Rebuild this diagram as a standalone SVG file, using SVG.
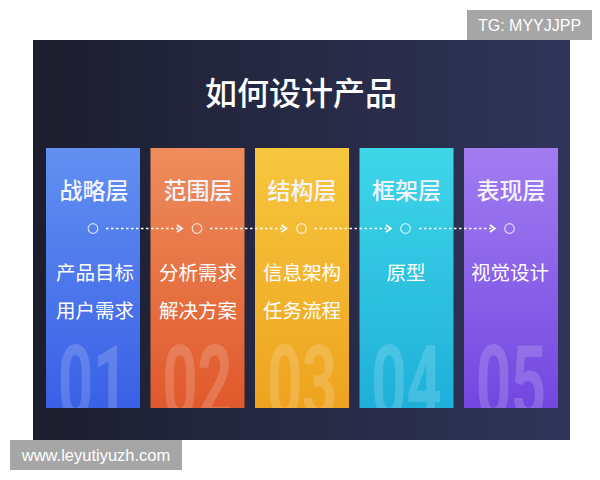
<svg xmlns="http://www.w3.org/2000/svg" width="600" height="480" viewBox="0 0 600 480">
  <defs>
    <linearGradient id="bg" x1="0" y1="0" x2="1" y2="0">
      <stop offset="0" stop-color="#1c1e2e"/>
      <stop offset="1" stop-color="#30355a"/>
    </linearGradient>
    <linearGradient id="g1" x1="0" y1="0" x2="0" y2="1">
      <stop offset="0" stop-color="#6190f1"/>
      <stop offset="1" stop-color="#3a60e6"/>
    </linearGradient>
    <linearGradient id="g2" x1="0" y1="0" x2="0" y2="1">
      <stop offset="0" stop-color="#ee8d5b"/>
      <stop offset="1" stop-color="#e0592c"/>
    </linearGradient>
    <linearGradient id="g3" x1="0" y1="0" x2="0" y2="1">
      <stop offset="0" stop-color="#f6c73e"/>
      <stop offset="1" stop-color="#eea31f"/>
    </linearGradient>
    <linearGradient id="g4" x1="0" y1="0" x2="0" y2="1">
      <stop offset="0" stop-color="#3fd6e8"/>
      <stop offset="1" stop-color="#1eb0d9"/>
    </linearGradient>
    <linearGradient id="g5" x1="0" y1="0" x2="0" y2="1">
      <stop offset="0" stop-color="#a27df1"/>
      <stop offset="1" stop-color="#7347e0"/>
    </linearGradient>
    <clipPath id="colclip">
      <rect x="40" y="148" width="525" height="260"/>
    </clipPath>
    <marker id="chev" markerWidth="10" markerHeight="10" refX="7" refY="5" orient="auto" markerUnits="userSpaceOnUse">
      <polyline points="2,1.5 7,5 2,8.5" fill="none" stroke="#ffffff" stroke-width="1.6"/>
    </marker>
  </defs>
  <style>
    .cjk { font-family: "Noto Sans CJK SC", "Noto Sans", sans-serif; fill: #ffffff; text-anchor: middle; }
    .title { font-size: 32px; font-weight: 500; }
    .head { font-size: 23px; font-weight: 500; fill: #f4f4ff; }
    .sub { font-size: 19.5px; }
    .num { font-family: Roboto, "Liberation Sans", sans-serif; font-weight: bold; font-size: 102px; fill: #ffffff; fill-opacity: 0.17; text-anchor: middle; }
    .dot { fill: none; stroke: #ffffff; stroke-opacity: 0.75; stroke-width: 1.2; }
    .link { stroke: #ffffff; stroke-width: 1.6; stroke-dasharray: 2.5 2.5; fill: none; }
    .wm { fill: #a6a6a6; }
    .wmt { font-family: "Liberation Sans", Arial, sans-serif; font-size: 16px; fill: #ffffff; }
  </style>

  <rect x="0" y="0" width="600" height="480" fill="#ffffff"/>
  <rect id="panel" x="33" y="40" width="537" height="400" fill="url(#bg)"/>

  <text id="title" class="cjk title" x="301" y="105">如何设计产品</text>

  <g id="col1">
    <rect x="46" y="148" width="94" height="260" fill="url(#g1)"/>
    <text class="cjk head" x="94" y="199">战略层</text>
    <circle class="dot" cx="93" cy="228.5" r="4.8"/>
    <text class="cjk sub" x="95" y="280">产品目标</text>
    <text class="cjk sub" x="95" y="318">用户需求</text>
    <g clip-path="url(#colclip)">
      <text class="num" transform="translate(93,418) scale(0.6,1)">01</text>
    </g>
  </g>
  <g id="col2">
    <rect x="150.5" y="148" width="94" height="260" fill="url(#g2)"/>
    <text class="cjk head" x="198" y="199">范围层</text>
    <circle class="dot" cx="197" cy="228.5" r="4.8"/>
    <text class="cjk sub" x="198" y="280">分析需求</text>
    <text class="cjk sub" x="198" y="318">解决方案</text>
    <g clip-path="url(#colclip)">
      <text class="num" transform="translate(197.5,418) scale(0.6,1)">02</text>
    </g>
  </g>
  <g id="col3">
    <rect x="255" y="148" width="94" height="260" fill="url(#g3)"/>
    <text class="cjk head" x="302" y="199">结构层</text>
    <circle class="dot" cx="301.5" cy="228.5" r="4.8"/>
    <text class="cjk sub" x="302" y="280">信息架构</text>
    <text class="cjk sub" x="302" y="318">任务流程</text>
    <g clip-path="url(#colclip)">
      <text class="num" transform="translate(302,418) scale(0.6,1)">03</text>
    </g>
  </g>
  <g id="col4">
    <rect x="359.5" y="148" width="94" height="260" fill="url(#g4)"/>
    <text class="cjk head" x="406.5" y="199">框架层</text>
    <circle class="dot" cx="405.5" cy="228.5" r="4.8"/>
    <text class="cjk sub" x="406" y="280">原型</text>
    <g clip-path="url(#colclip)">
      <text class="num" transform="translate(406.5,418) scale(0.6,1)">04</text>
    </g>
  </g>
  <g id="col5">
    <rect x="464" y="148" width="94" height="260" fill="url(#g5)"/>
    <text class="cjk head" x="511" y="199">表现层</text>
    <circle class="dot" cx="509.5" cy="228.5" r="4.8"/>
    <text class="cjk sub" x="510" y="280">视觉设计</text>
    <g clip-path="url(#colclip)">
      <text class="num" transform="translate(511,418) scale(0.6,1)">05</text>
    </g>
  </g>

  <g id="connectors">
    <line class="link" x1="106" y1="228.5" x2="182" y2="228.5" marker-end="url(#chev)"/>
    <line class="link" x1="210" y1="228.5" x2="286.5" y2="228.5" marker-end="url(#chev)"/>
    <line class="link" x1="314.5" y1="228.5" x2="391" y2="228.5" marker-end="url(#chev)"/>
    <line class="link" x1="419" y1="228.5" x2="495" y2="228.5" marker-end="url(#chev)"/>
  </g>

  <g id="wm-tg">
    <rect class="wm" x="467" y="10" width="125" height="30"/>
    <text class="wmt" x="529.5" y="31" text-anchor="middle">TG: MYYJJPP</text>
  </g>
  <g id="wm-www">
    <rect class="wm" x="10" y="440" width="172" height="30"/>
    <text class="wmt" x="96" y="461" text-anchor="middle" style="font-size:16.5px">www.leyutiyuzh.com</text>
  </g>
</svg>
